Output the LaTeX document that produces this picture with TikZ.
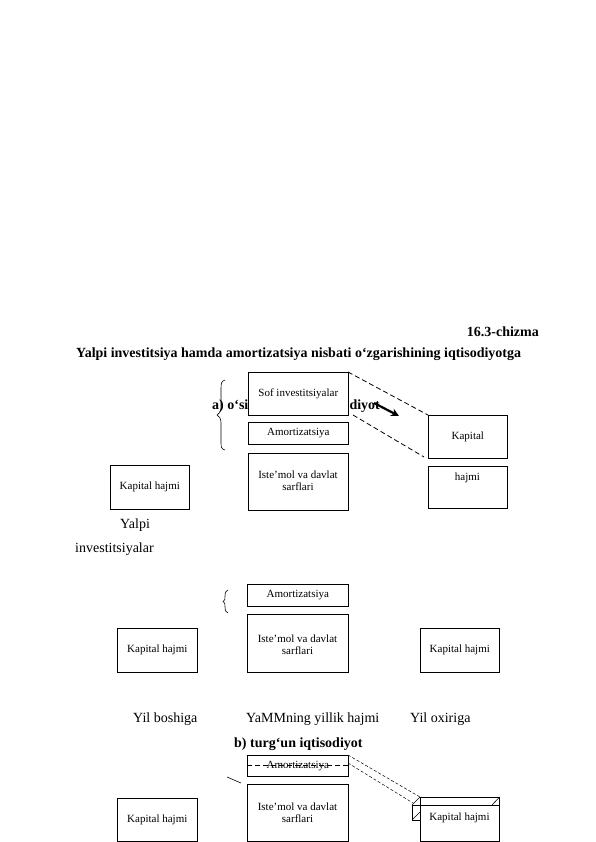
\documentclass[tikz,border=0pt]{standalone}
\usepackage{fontspec}
\setmainfont{Liberation Serif}
\usetikzlibrary{arrows.meta}
\begin{document}
\begin{tikzpicture}[x=1pt,y=-1pt,
 bx/.style={draw, line width=0.6pt, fill=white, inner sep=0pt, anchor=north west, font=\fontsize{11}{12.5}\selectfont, align=center},
 lbl/.style={inner sep=0pt, font=\fontsize{11}{12}\selectfont, align=center, anchor=base},
 big/.style={font=\fontsize{14}{16}\selectfont, inner sep=0pt, anchor=base west},
 bigb/.style={font=\bfseries\fontsize{14}{16}\selectfont, inner sep=0pt},
 dl/.style={dash pattern=on 5pt off 3pt, line width=0.8pt},
 thinl/.style={line width=0.6pt}]
\useasboundingbox (0,0) rectangle (596,842);
\fill[white] (0,0) rectangle (596,842);

% headings
\node[bigb, anchor=base east] (fig) at (539,336) {16.3-chizma};
\node[bigb, anchor=base west] (title) at (76,357) {Yalpi investitsiya hamda amortizatsiya nisbati o‘zgarishining iqtisodiyotga};
\node[bigb, anchor=base west] (ha) at (212,409) {a) o‘sib boruvchi iqtisodiyot};

% section a
\node[bx, minimum width=100pt, minimum height=43pt] (sof) at (248,372) {Sof investitsiyalar};
\node[bx, minimum width=100pt, minimum height=22pt] (amA) at (248,422) {Amortizatsiya};
\node[bx, minimum width=100pt, minimum height=57pt] (istA) at (248,453) {};
\node[lbl] (istAt) at (298,490) {Iste’mol va davlat\\sarflari};
\node[bx, minimum width=79pt, minimum height=43pt] (kapA) at (428,415) {Kapital};
\node[bx, minimum width=79pt, minimum height=42pt] (hajA) at (428,466) {};
\node[lbl] (hajAt) at (467.5,480) {hajmi};
\node[bx, minimum width=79pt, minimum height=44pt] (kapL) at (110,465) {Kapital hajmi};
\node[big] (yalpi) at (120,528) {Yalpi};
\node[big] (invest) at (75,552) {investitsiyalar};

\draw[thinl] (225,380) .. controls (221,381) and (221,384) .. (221,390)
  -- (221,407) .. controls (221,412) and (219,414) .. (217,415)
  .. controls (219,416) and (221,418) .. (221,423)
  -- (221,441) .. controls (221,447) and (221,449) .. (225,450);

\coordinate (d1s) at (348,372);
\coordinate (d1e) at (428,415);
\coordinate (d2s) at (353,415);
\coordinate (d2e) at (424,457);
\draw[dl] (d1s) -- (d1e);
\draw[dl] (d2s) -- (d2e);
\coordinate (arS) at (374,403);
\coordinate (arE) at (399,416);
\draw[line width=2.2pt, -{Stealth[length=8pt,width=8pt]}] (arS) -- (arE);

% section b
\node[bx, minimum width=101pt, minimum height=22pt] (amB) at (247,584) {Amortizatsiya};
\node[bx, minimum width=101pt, minimum height=58pt] (istB) at (247,614) {};
\node[lbl] (istBt) at (297.5,654) {Iste’mol va davlat\\sarflari};
\node[bx, minimum width=80pt, minimum height=44pt] (kapBL) at (117,628) {Kapital hajmi};
\node[bx, minimum width=79pt, minimum height=44pt] (kapBR) at (420,628) {Kapital hajmi};
\draw[thinl] (228,590) .. controls (225,591) and (225,593) .. (225,596)
  .. controls (225,599) and (225,601) .. (223,601.5)
  .. controls (225,602) and (225,604) .. (225,607)
  .. controls (225,610) and (225,612) .. (228,613);

\node[big] (yb) at (133,722) {Yil boshiga};
\node[big] (yamm) at (246,722) {YaMMning yillik hajmi};
\node[big] (yo) at (410,722) {Yil oxiriga};
\node[bigb, anchor=base west] (hb) at (234,747) {b) turg‘un iqtisodiyot};

% section c
\node[bx, minimum width=101pt, minimum height=21pt] (amC) at (247,755) {Amortizatsiya};
\coordinate (mL) at (247,765.5);
\coordinate (mR) at (348,765.5);
\draw[dl] (mL) -- (mR);
\node[bx, minimum width=101pt, minimum height=57pt] (istC) at (247,784) {};
\node[lbl] (istCt) at (297.5,822) {Iste’mol va davlat\\sarflari};
\node[bx, minimum width=80pt, minimum height=43pt] (kapCL) at (117,798) {Kapital hajmi};
\coordinate (tk1) at (227,777);
\coordinate (tk2) at (241,783);
\draw[thinl] (tk1) -- (tk2);

% cube
\node[bx, minimum width=79pt, minimum height=44pt] (kapCR) at (420,797) {};
\node[lbl] (kapCRt) at (459.5,820) {Kapital hajmi};
\coordinate (c1) at (412,805);
\coordinate (c2) at (499,805);
\coordinate (c3) at (412,820);
\coordinate (c4) at (420,820);
\coordinate (c5) at (420,812);
\coordinate (c6) at (492,805);
\draw[thinl] (c1) -- (c2);
\draw[thinl] (c1) -- (c3) -- (c4);
\draw[thinl] (c1) -- (kapCR.north west);
\draw[thinl] (c6) -- (kapCR.north east);
\draw[thinl] (c3) -- (c5);

\coordinate (e1s) at (348,755);
\coordinate (e1e) at (420,797);
\coordinate (e2s) at (348,763);
\coordinate (e2e) at (413,803);
\draw[dash pattern=on 3pt off 2pt, line width=0.5pt] (e1s) -- (e1e);
\draw[dash pattern=on 3pt off 2pt, line width=0.5pt] (e2s) -- (e2e);
\end{tikzpicture}
\end{document}
